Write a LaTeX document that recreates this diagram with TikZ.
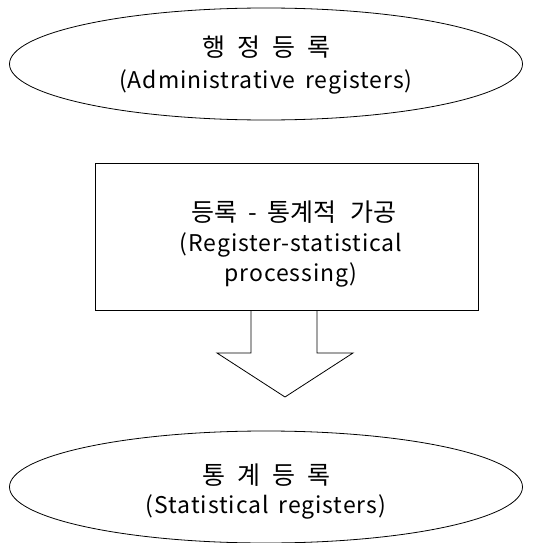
\documentclass[tikz,border=0pt]{standalone}
\usepackage{fontspec}
\setmainfont{Noto Sans CJK KR}[LetterSpace=4,WordSpace=1.6]
\newfontfamily\kr{Noto Sans CJK KR}
\usetikzlibrary{shapes.geometric}
\newcommand{\kgap}[1]{\hspace*{#1pt}}
\begin{document}
\begin{tikzpicture}[x=1pt,y=-1pt,
  line width=0.8pt,
  oval/.style={draw,ellipse,inner sep=0pt,minimum width=513pt,minimum height=112pt},
  procbox/.style={draw,rectangle,inner sep=0pt,minimum width=383pt,minimum height=147pt},
  label/.style={font=\fontsize{23}{30}\selectfont,align=center},
  klabel/.style={font=\kr\fontsize{25}{30}\selectfont,align=center}]
  \useasboundingbox (0,0) rectangle (552,543);
  % source and target registers
  \node[oval] (admin) at (266,64) {};
  \node[klabel] at (266,47) {행\kgap{12}정\kgap{12}등\kgap{12}록};
  \node[label] at (266,82) {(Administrative registers)};
  \node[oval] (stat) at (266,487) {};
  \node[klabel] at (266,475) {통\kgap{12}계\kgap{12}등\kgap{12}록};
  \node[label] at (266,507) {(Statistical registers)};
  % processing step
  \node[procbox] (proc) at (286.5,236.5) {};
  \node[klabel] at (294,212) {등록\kgap{11}-\kgap{10}통계적\kgap{14}가공};
  \node[label] at (291,260) {(Register-statistical\\processing)};
  % block arrow hanging from the processing box
  \coordinate (sl) at (251,310);
  \coordinate (sr) at (317,310);
  \coordinate (tip) at (285,397);
  \draw[line join=miter] (sl) -- (251,353) -- (217,353) -- (tip)
     -- (353,353) -- (317,353) -- (sr);
\end{tikzpicture}
\end{document}
